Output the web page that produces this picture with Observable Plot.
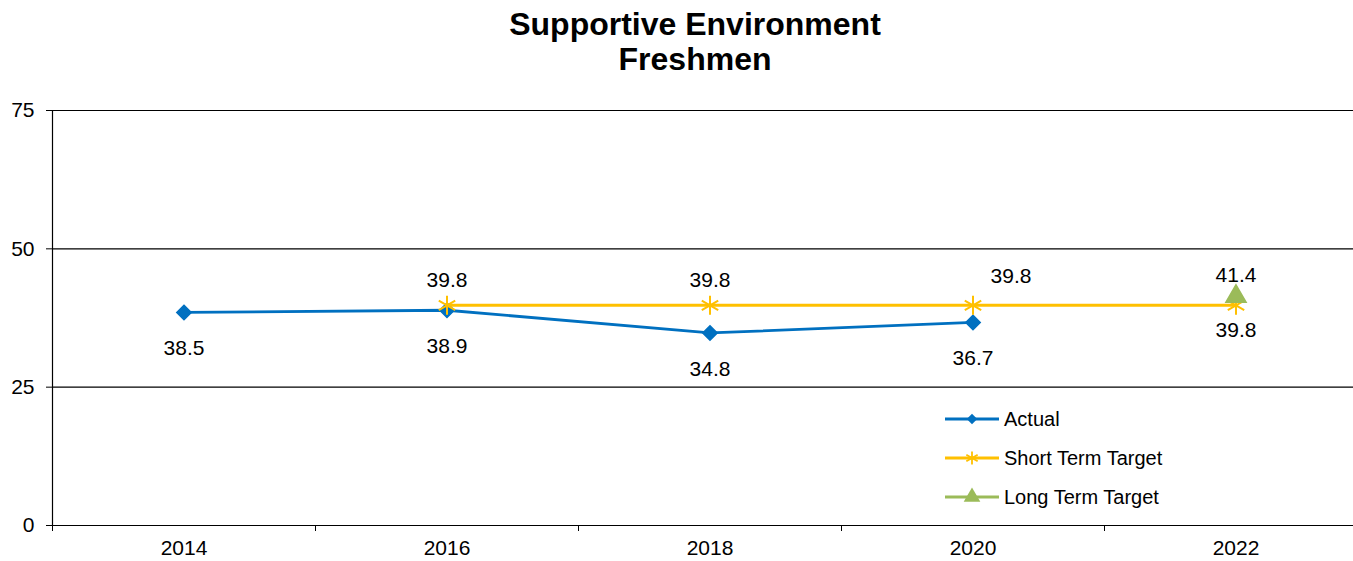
<!DOCTYPE html>
<html>
<head>
<meta charset="utf-8">
<script src="https://cdn.jsdelivr.net/npm/d3@7"></script>
<script src="https://cdn.jsdelivr.net/npm/@observablehq/plot@0.6"></script>
<style>
  body { margin: 0; background: #fff; font-family: "Liberation Sans", Arial, sans-serif; }
  #wrap { position: relative; width: 1353px; height: 561px; overflow: hidden; }
  #title { position: absolute; left: 0; top: 7px; width: 1390px; text-align: center; font-weight: bold; font-size: 32px; line-height: 35px; color: #000; }
  #legend { position: absolute; left: 0; top: 0; pointer-events: none; }
</style>
</head>
<body>
<div id="wrap">
  <div id="chart"></div>
  <div id="title">Supportive Environment<br>Freshmen</div>
  <svg id="legend" width="1353" height="561"></svg>
</div>
<script>
const years = [2014, 2016, 2018, 2020, 2022];
const bandEdges = [2013, 2015, 2017, 2019, 2021];
const yTicks = [0, 25, 50, 75];

const actualYears = [2014, 2016, 2018, 2020];
const actualValues = [38.5, 38.9, 34.8, 36.7];

const shortYears = [2016, 2018, 2020, 2022];
const shortValues = [39.8, 39.8, 39.8, 39.8];

const longYears = [2022];
const longValues = [41.4];

const seriesNames = ["Actual", "Short Term Target", "Long Term Target"];
const seriesColors = ["#0070C0", "#FFC000", "#9BBB59"];

const actual = actualYears.map((x, i) => ({x, y: actualValues[i]}));
const short = shortYears.map((x, i) => ({x, y: shortValues[i]}));
const long = longYears.map((x, i) => ({x, y: longValues[i]}));

const fmt = d3.format(".1f");
const FS = 21;

const chart = Plot.plot({
  width: 1353,
  height: 561,
  marginTop: 110,
  marginBottom: 36,
  marginLeft: 52,
  marginRight: 0,
  style: {fontFamily: "'Liberation Sans', Arial, sans-serif", fontSize: FS + "px", color: "#000", background: "#fff"},
  x: {domain: [2013, 2023], range: [52, 52 + 263 * 5]},
  y: {domain: [0, 75], range: [525, 110]},
  marks: [
    Plot.gridY(yTicks, {stroke: "#000", strokeOpacity: 1, strokeWidth: 1.2}),
    Plot.ruleX([2013], {stroke: "#000", strokeWidth: 1.2}),
    Plot.ruleY([0], {stroke: "#000", strokeWidth: 1.2}),
    Plot.axisY(yTicks, {tickSize: 6, tickPadding: 12, stroke: "#000", label: null, fontSize: FS}),
    Plot.axisX(bandEdges, {tickSize: 6, tickFormat: () => "", stroke: "#000", label: null}),
    Plot.axisX(years, {tickSize: 0, tickPadding: 15, tickFormat: d3.format("d"), label: null, fontSize: FS}),
    // Actual
    Plot.line(actual, {x: "x", y: "y", stroke: seriesColors[0], strokeWidth: 2.8}),
    Plot.dot(actual, {x: "x", y: "y", symbol: "diamond2", r: 6.5, fill: seriesColors[0], stroke: seriesColors[0]}),
    // Short term
    Plot.line(short, {x: "x", y: "y", stroke: seriesColors[1], strokeWidth: 2.8}),
    Plot.dot(short, {x: "x", y: "y", symbol: "asterisk", r: 9, stroke: seriesColors[1], strokeWidth: 2}),
    // Long term
    Plot.dot(long, {x: "x", y: "y", symbol: "triangle", r: 7.5, fill: seriesColors[2], stroke: seriesColors[2]}),
    // Labels
    Plot.text(actual, {x: "x", y: "y", text: d => fmt(d.y), dy: 36, fontSize: FS, fill: "#000"}),
    Plot.text(short.filter(d => d.x < 2020), {x: "x", y: "y", text: d => fmt(d.y), dy: -25, fontSize: FS, fill: "#000"}),
    Plot.text(short.filter(d => d.x === 2020), {x: "x", y: "y", text: d => fmt(d.y), dx: 38, dy: -29, fontSize: FS, fill: "#000"}),
    Plot.text(short.filter(d => d.x === 2022), {x: "x", y: "y", text: d => fmt(d.y), dy: 25, fontSize: FS, fill: "#000"}),
    Plot.text(long, {x: "x", y: "y", text: d => fmt(d.y), dy: -21, fontSize: FS, fill: "#000"})
  ]
});
document.getElementById("chart").appendChild(chart);

// Legend
const lg = d3.select("#legend");
const symbols = [d3.symbolDiamond2, d3.symbolAsterisk, d3.symbolTriangle];
seriesNames.forEach((name, i) => {
  const yy = 419 + i * 39;
  const g = lg.append("g");
  g.append("line").attr("x1", 945).attr("x2", 999).attr("y1", yy).attr("y2", yy)
    .attr("stroke", seriesColors[i]).attr("stroke-width", 2.8);
  const sz = i === 0 ? 70 : 120;
  const p = g.append("path").attr("transform", `translate(972,${yy})`).attr("d", d3.symbol(symbols[i], sz)());
  if (i === 1) p.attr("fill", "none").attr("stroke", seriesColors[i]).attr("stroke-width", 1.8);
  else p.attr("fill", seriesColors[i]);
  g.append("text").attr("x", 1004).attr("y", yy).attr("dy", "0.35em")
    .attr("font-family", "'Liberation Sans', Arial, sans-serif").attr("font-size", 20).text(name);
});
</script>
</body>
</html>
